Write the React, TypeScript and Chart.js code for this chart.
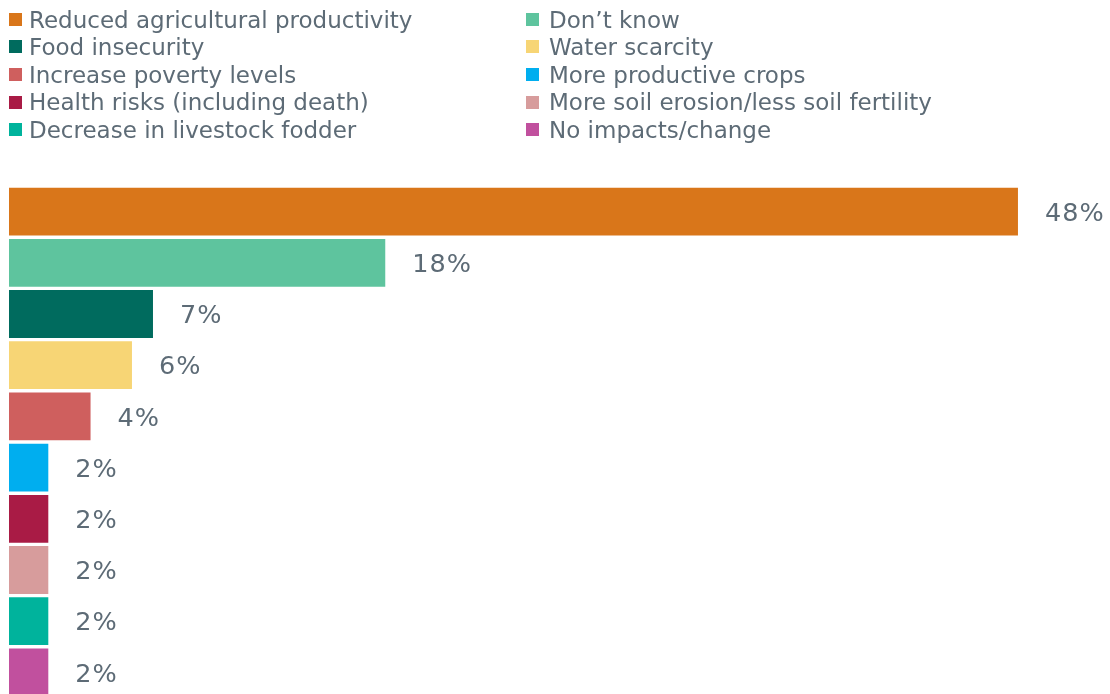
import React, { useEffect, useRef } from "react";
import { Chart, registerables } from "chart.js";

Chart.register(...registerables);

const categories: string[] = [
  "Reduced agricultural productivity",
  "Don\u2019t know",
  "Food insecurity",
  "Water scarcity",
  "Increase poverty levels",
  "More productive crops",
  "Health risks (including death)",
  "More soil erosion/less soil fertility",
  "Decrease in livestock fodder",
  "No impacts/change",
];

const values: number[] = [48, 17.9, 6.85, 5.85, 3.88, 1.87, 1.87, 1.87, 1.87, 1.87];

const valueLabels: string[] = ["48%", "18%", "7%", "6%", "4%", "2%", "2%", "2%", "2%", "2%"];

const colors: string[] = [
  "#D9761A",
  "#5EC49E",
  "#006B5E",
  "#F7D575",
  "#CF5F5E",
  "#00AEEF",
  "#A91B45",
  "#D79C9C",
  "#00B39C",
  "#C1509E",
];

const TEXT = "#5D6B76";
const FONT = "'DejaVu Sans', Verdana, sans-serif";

const labelPlugin = {
  id: "valueLabels",
  afterDatasetsDraw(chart: any) {
    const ctx = chart.ctx;
    const meta = chart.getDatasetMeta(0);
    ctx.save();
    ctx.font = `25.5px ${FONT}`;
    ctx.fillStyle = TEXT;
    ctx.textAlign = "left";
    ctx.textBaseline = "middle";
    try {
      (ctx as any).letterSpacing = "1px";
    } catch (e) {}
    meta.data.forEach((bar: any, i: number) => {
      ctx.fillText(valueLabels[i], bar.x + 27, bar.y + 2.5);
    });
    ctx.restore();
  },
};

export default function App() {
  const ref = useRef<HTMLCanvasElement | null>(null);
  useEffect(() => {
    document.body.style.margin = "0";
    if (!ref.current) return;
    const chart = new Chart(ref.current, {
      type: "bar",
      data: {
        labels: categories,
        datasets: [
          {
            data: values,
            backgroundColor: colors,
            borderWidth: 0,
            categoryPercentage: 1,
            barPercentage: 0.933,
          },
        ],
      },
      options: {
        indexAxis: "y",
        responsive: false,
        animation: false,
        layout: { padding: { left: 9, right: 50, top: 186, bottom: 2 } },
        scales: {
          x: { display: false, min: 0, max: 50 },
          y: { display: false },
        },
        plugins: {
          legend: { display: false },
          tooltip: { enabled: false },
        },
      },
      plugins: [labelPlugin],
    });
    return () => chart.destroy();
  }, []);

  return (
    <div
      style={{
        position: "absolute",
        left: 0,
        top: 0,
        width: 1110,
        height: 694,
        overflow: "hidden",
        background: "#fff",
        fontFamily: FONT,
      }}
    >
      <canvas ref={ref} width={1110} height={700} style={{ position: "absolute", left: 0, top: 0 }} />
      {categories.map((c, i) => {
        const col = i % 2;
        const row = Math.floor(i / 2);
        return (
          <div
            key={c}
            style={{
              position: "absolute",
              left: col === 0 ? 9 : 526,
              top: 5.5 + row * 27.6,
              height: 27.6,
              display: "flex",
              alignItems: "center",
              whiteSpace: "nowrap",
            }}
          >
            <span
              style={{
                display: "inline-block",
                width: 13,
                height: 13,
                background: colors[i],
                marginRight: col === 0 ? 7 : 10,
              }}
            />
            <span style={{ fontSize: 23, color: TEXT, lineHeight: "27.6px", position: "relative", top: 1 }}>{c}</span>
          </div>
        );
      })}
    </div>
  );
}
